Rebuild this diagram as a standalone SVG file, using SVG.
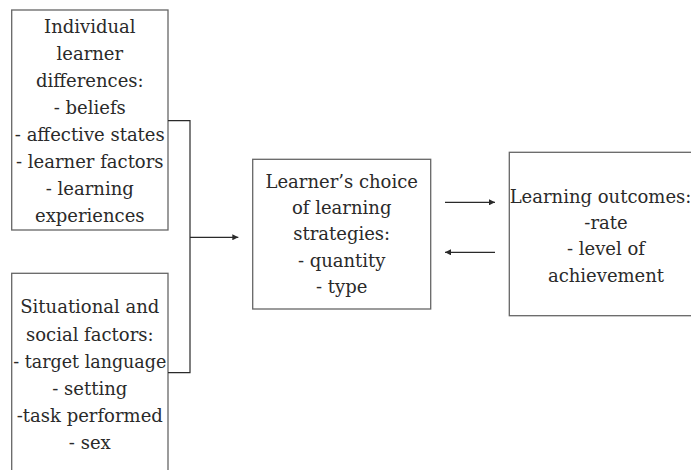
<svg xmlns="http://www.w3.org/2000/svg" width="691" height="470" viewBox="0 0 691 470">
<defs>
<style>
.box{fill:#fff;stroke:#666;stroke-width:1.3}
.t{font-family:'DejaVu Serif','Liberation Serif',serif;font-size:18px;fill:#2a2a2a;text-anchor:middle}
.c{fill:none;stroke:#2a2a2a;stroke-width:1.2}
</style>
<marker id="ah" viewBox="0 0 10 10" refX="10" refY="5" markerWidth="8" markerHeight="6" markerUnits="userSpaceOnUse" orient="auto">
<path d="M0,0 L10,5 L0,10 z" fill="#2a2a2a"/>
</marker>
</defs>
<rect width="691" height="470" fill="#fff"/>
<g id="individual">
<rect class="box" x="11.7" y="10" width="156.3" height="220"/>
<text class="t" x="89.8" y="33.3">Individual</text>
<text class="t" x="89.8" y="60.2">learner</text>
<text class="t" x="89.8" y="87.1">differences:</text>
<text class="t" x="89.8" y="114">- beliefs</text>
<text class="t" x="89.8" y="140.9">- affective states</text>
<text class="t" x="89.8" y="167.9">- learner factors</text>
<text class="t" x="89.8" y="194.8">- learning</text>
<text class="t" x="89.8" y="221.7">experiences</text>
</g>
<g id="situational">
<rect class="box" x="11.7" y="273.3" width="156.3" height="210"/>
<text class="t" x="89.8" y="313.3">Situational and</text>
<text class="t" x="89.8" y="340.5">social factors:</text>
<text class="t" x="89.8" y="367.7" textLength="153" lengthAdjust="spacingAndGlyphs">- target language</text>
<text class="t" x="89.8" y="394.9">- setting</text>
<text class="t" x="89.8" y="422.1">-task performed</text>
<text class="t" x="89.8" y="449.3">- sex</text>
</g>
<g id="choice">
<rect class="box" x="252.7" y="159.3" width="178" height="149.7"/>
<text class="t" x="341.7" y="187.7">Learner’s choice</text>
<text class="t" x="341.7" y="214">of learning</text>
<text class="t" x="341.7" y="240.3">strategies:</text>
<text class="t" x="341.7" y="266.6">- quantity</text>
<text class="t" x="341.7" y="293">- type</text>
</g>
<g id="outcomes">
<rect class="box" x="509.3" y="152.3" width="194" height="163.4"/>
<text class="t" x="600.5" y="202.7">Learning outcomes:</text>
<text class="t" x="606" y="229">-rate</text>
<text class="t" x="606" y="255.3">- level of</text>
<text class="t" x="606" y="281.6">achievement</text>
</g>
<g id="connectors">
<path class="c" d="M168,120.7 H190 V372.7 H168"/>
<path class="c" d="M190,237.3 H238.3" marker-end="url(#ah)"/>
<path class="c" d="M445,202.3 H495" marker-end="url(#ah)"/>
<path class="c" d="M495,252.3 H445" marker-end="url(#ah)"/>
</g>
</svg>
